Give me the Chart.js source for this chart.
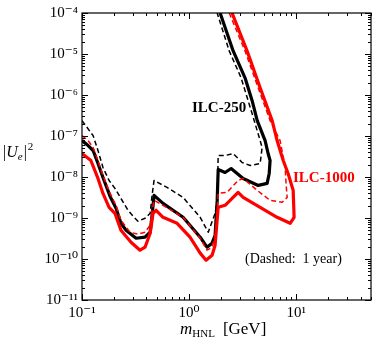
<!DOCTYPE html>
<html>
<head>
<meta charset="utf-8">
<script src="https://cdn.jsdelivr.net/npm/chart.js@4/dist/chart.umd.min.js"></script>
<style>
html,body{margin:0;padding:0;background:#fff;}
#c{display:block;}
</style>
</head>
<body>
<canvas id="c" width="374" height="346"></canvas>
<script>
// ---- Data ----
const xTickValues = [0.1, 1, 10];
const yTickValues = [1e-11, 1e-10, 1e-9, 1e-8, 1e-7, 1e-6, 1e-5, 1e-4];

// ILC-250, full luminosity (black solid)
const ilc250FullX = [0.1, 0.114, 0.127, 0.141, 0.157, 0.183, 0.208, 0.231, 0.258, 0.287, 0.320, 0.388, 0.433, 0.451, 0.471, 0.571, 0.879, 1.27, 1.47, 1.64, 1.75, 1.83, 1.87, 2.17, 2.47, 3.20, 4.42, 5.36, 5.60, 5.71, 5.47, 5.13, 4.33, 3.88, 3.33, 2.58, 1.95];
const ilc250FullY = [7.74e-8, 5.85e-8, 4.43e-8, 2.14e-8, 9.76e-9, 3.36e-9, 1.72e-9, 7.43e-10, 5.02e-10, 4.02e-10, 3.21e-10, 3.40e-10, 4.49e-10, 1.16e-9, 3.56e-9, 2.28e-9, 1.04e-9, 3.40e-10, 1.94e-10, 2.43e-10, 3.80e-10, 2.69e-9, 1.53e-8, 1.29e-8, 1.61e-8, 9.23e-9, 6.23e-9, 6.97e-9, 1.22e-8, 2.53e-8, 3.74e-8, 7.74e-8, 2.37e-7, 7.26e-7, 2.63e-6, 1.19e-5, 1e-4];

// ILC-250, 1 year (black dashed)
const ilc250YearX = [0.1, 0.127, 0.141, 0.157, 0.179, 0.203, 0.231, 0.269, 0.306, 0.333, 0.388, 0.433, 0.451, 0.471, 0.622, 0.879, 1.27, 1.51, 1.75, 1.83, 1.87, 2.17, 2.58, 3.13, 3.72, 4.61, 4.81, 4.61, 3.88, 3.56, 3.06, 2.37, 1.83];
const ilc250YearY = [2.37e-7, 1.02e-7, 4.43e-8, 1.71e-8, 8.24e-9, 5.27e-9, 3.01e-9, 1.54e-9, 1.04e-9, 8.32e-10, 9.84e-10, 1.30e-9, 3.56e-9, 8.24e-9, 5.57e-9, 3.18e-9, 1.04e-9, 4.49e-10, 1.30e-9, 2.69e-9, 3.34e-8, 3.34e-8, 3.74e-8, 2.26e-8, 1.91e-8, 2.14e-8, 5.24e-8, 7.74e-8, 3.51e-7, 7.26e-7, 2.63e-6, 1.19e-5, 1e-4];

// ILC-1000, full luminosity (red solid)
const ilc1000FullX = [0.1, 0.121, 0.141, 0.157, 0.179, 0.203, 0.231, 0.287, 0.348, 0.388, 0.433, 0.461, 0.492, 0.571, 0.773, 1.02, 1.27, 1.44, 1.64, 1.75, 1.87, 2.17, 2.87, 3.20, 4.61, 6.64, 8.79, 9.57, 9.38, 8.41, 7.57, 6.64, 5.97, 4.61, 3.48, 2.52];
const ilc1000FullY = [3.74e-8, 2.53e-8, 9.23e-9, 3.98e-9, 1.82e-9, 1.30e-9, 5.02e-10, 2.57e-10, 1.64e-10, 1.94e-10, 4.25e-10, 1.30e-9, 1.54e-9, 1.04e-9, 7.43e-10, 3.40e-10, 1.39e-10, 9.37e-11, 1.24e-10, 2.17e-10, 1.82e-9, 2.04e-9, 4.21e-9, 3.18e-9, 1.82e-9, 1.04e-9, 7.43e-10, 1.04e-9, 4.71e-9, 1.22e-8, 2.53e-8, 7.74e-8, 2.37e-7, 1.50e-6, 1.19e-5, 1e-4];

// ILC-1000, 1 year (red dashed)
const ilc1000YearX = [0.1, 0.114, 0.127, 0.141, 0.157, 0.183, 0.208, 0.231, 0.281, 0.333, 0.388, 0.433, 0.451, 0.471, 0.571, 0.879, 1.27, 1.47, 1.64, 1.79, 1.87, 2.26, 2.87, 3.20, 4.33, 5.71, 7.40, 8.24, 8.07, 7.89, 7.08, 5.71, 4.42, 3.33, 2.37];
const ilc1000YearY = [1.02e-7, 7.74e-8, 5.24e-8, 2.53e-8, 1.09e-8, 3.98e-9, 2.04e-9, 8.79e-10, 4.49e-10, 4.02e-10, 4.49e-10, 6.65e-10, 1.54e-9, 2.69e-9, 2.04e-9, 1.04e-9, 3.21e-10, 1.64e-10, 1.94e-10, 5.02e-10, 3.98e-9, 4.21e-9, 8.24e-9, 9.23e-9, 4.71e-9, 2.69e-9, 2.41e-9, 3.18e-9, 6.23e-9, 1.71e-8, 7.74e-8, 2.37e-7, 1.50e-6, 1.19e-5, 1e-4];

// ---- helpers ----
const zip = (xs, ys) => xs.map((x, i) => ({x: x, y: ys[i]}));
const SUP = {'-':'\u207B','0':'\u2070','1':'\u00B9','2':'\u00B2','3':'\u00B3','4':'\u2074','5':'\u2075','6':'\u2076','7':'\u2077','8':'\u2078','9':'\u2079'};
const decadeLabel = v => {
  const e = Math.round(Math.log10(v));
  return '10' + String(e).split('').map(ch => SUP[ch]).join('');
};
const SERIF = '"Liberation Serif", "DejaVu Serif", serif';

const frameAndText = {
  id: 'frameAndText',
  afterDraw(chart) {
    const {ctx, chartArea: a, scales} = chart;
    const xs = scales.x, ys = scales.y;
    ctx.save();
    ctx.strokeStyle = '#000';
    ctx.lineWidth = 1.2;
    ctx.strokeRect(a.left, a.top, a.right - a.left, a.bottom - a.top);
    ctx.lineWidth = 1;
    ctx.beginPath();
    // x ticks (bottom + top), inward
    for (let d = -1; d <= 1; d++) {
      for (let m = 1; m <= 9; m++) {
        const v = m * Math.pow(10, d);
        if (v < xs.min || v > xs.max) continue;
        const p = Math.round(xs.getPixelForValue(v)) + 0.5;
        const len = m === 1 ? 6 : 3;
        ctx.moveTo(p, a.bottom); ctx.lineTo(p, a.bottom - len);
        ctx.moveTo(p, a.top); ctx.lineTo(p, a.top + len);
      }
    }
    // y ticks (left + right), inward
    for (let d = -11; d <= -4; d++) {
      for (let m = 1; m <= 9; m++) {
        const v = m * Math.pow(10, d);
        if (v < ys.min * 0.999 || v > ys.max * 1.001) continue;
        const p = Math.round(ys.getPixelForValue(v)) + 0.5;
        const len = m === 1 ? 6 : 3;
        ctx.moveTo(a.left, p); ctx.lineTo(a.left + len, p);
        ctx.moveTo(a.right, p); ctx.lineTo(a.right - len, p);
      }
    }
    ctx.stroke();

    // annotations
    ctx.textBaseline = 'alphabetic';
    ctx.textAlign = 'left';
    ctx.fillStyle = '#000';
    ctx.font = 'bold 15px ' + SERIF;
    ctx.fillText('ILC-250', 192, 112);
    ctx.fillStyle = '#ff0000';
    ctx.fillText('ILC-1000', 293, 182);
    ctx.fillStyle = '#000';
    ctx.font = '14px ' + SERIF;
    ctx.fillText('(Dashed:  1 year)', 245, 263);

    // y-axis title |U_e|^2
    let x = 3, yb = 157;
    ctx.font = '16px ' + SERIF;
    ctx.fillText('|', x, yb); x += ctx.measureText('|').width;
    ctx.font = 'italic 16px ' + SERIF;
    ctx.fillText('U', x, yb); x += ctx.measureText('U').width;
    ctx.font = 'italic 11px ' + SERIF;
    ctx.fillText('e', x, yb + 3); x += ctx.measureText('e').width + 1;
    ctx.font = '16px ' + SERIF;
    ctx.fillText('|', x, yb); x += ctx.measureText('|').width;
    ctx.font = '11px ' + SERIF;
    ctx.fillText('2', x + 1, yb - 7);

    // x-axis title m_HNL [GeV]
    x = 180; yb = 334;
    ctx.font = 'italic 17px ' + SERIF;
    ctx.fillText('m', x, yb); x += ctx.measureText('m').width;
    ctx.font = '11px ' + SERIF;
    ctx.fillText('HNL', x, yb + 3); x += ctx.measureText('HNL').width + 8;
    ctx.font = '17px ' + SERIF;
    ctx.fillText('[GeV]', x, yb);
    ctx.restore();
  }
};

const lineDs = (label, xs, ys, color, dashed) => ({
  label: label,
  data: zip(xs, ys),
  showLine: true,
  borderColor: color,
  backgroundColor: color,
  borderWidth: dashed ? 1.5 : 3.2,
  borderDash: dashed ? [5, 3] : [],
  pointRadius: 0,
  pointHoverRadius: 0,
  tension: 0,
  fill: false,
  borderJoinStyle: 'round',
  borderCapStyle: 'butt'
});

new Chart(document.getElementById('c'), {
  type: 'scatter',
  data: {
    datasets: [
      lineDs('ILC-1000 (1 year)', ilc1000YearX, ilc1000YearY, '#ff0000', true),
      lineDs('ILC-1000', ilc1000FullX, ilc1000FullY, '#ff0000', false),
      lineDs('ILC-250 (1 year)', ilc250YearX, ilc250YearY, '#000000', true),
      lineDs('ILC-250', ilc250FullX, ilc250FullY, '#000000', false)
    ]
  },
  options: {
    responsive: false,
    animation: false,
    devicePixelRatio: 1,
    layout: {padding: {top: 12, right: 3, left: 0, bottom: 0}},
    plugins: {legend: {display: false}, tooltip: {enabled: false}},
    scales: {
      x: {
        type: 'logarithmic',
        min: 0.1, max: 50,
        position: 'bottom',
        afterFit: s => { s.height = 46; },
        afterBuildTicks: s => { s.ticks = xTickValues.map(v => ({value: v, major: true})); },
        grid: {display: false, drawTicks: false},
        border: {display: false},
        ticks: {
          autoSkip: false, maxRotation: 0, padding: 4,
          color: '#000',
          font: {family: SERIF, size: 15},
          callback: v => decadeLabel(v)
        }
      },
      y: {
        type: 'logarithmic',
        min: 1e-11, max: 1e-4,
        afterFit: s => { s.width = 82; },
        afterBuildTicks: s => { s.ticks = yTickValues.map(v => ({value: v, major: true})); },
        grid: {display: false, drawTicks: false},
        border: {display: false},
        ticks: {
          autoSkip: false, padding: 4,
          color: '#000',
          font: {family: SERIF, size: 15},
          callback: v => decadeLabel(v)
        }
      }
    }
  },
  plugins: [frameAndText]
});
</script>
</body>
</html>
